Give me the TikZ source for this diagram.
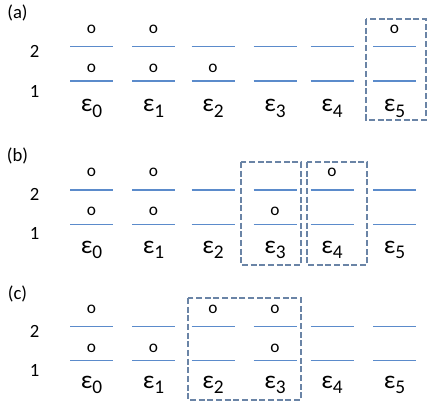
\documentclass[tikz,border=0pt]{standalone}
\usepackage{fontspec}
\setmainfont{Carlito}
\definecolor{lvl}{HTML}{5B8BCB}
\definecolor{grpc}{HTML}{6A84A6}
\begin{document}
\begin{tikzpicture}[x=0.75pt,y=-0.75pt,
  level/.style={draw=lvl,line width=1pt},
  occ/.style={font=\fontsize{13}{15}\selectfont,inner sep=0pt},
  lab/.style={font=\fontsize{14}{16}\selectfont,inner sep=0pt},
  eps/.style={font=\fontsize{19}{22}\selectfont,inner sep=0pt,anchor=base},
  grp/.style={draw=grpc,line width=1.5pt,dash pattern=on 4.5pt off 2pt}]
\useasboundingbox (0,0) rectangle (436,409);
\def\cols{0/91.5,1/153.5,2/213,3/275,4/332,5/394.5}
% panel: name / tag / tag y / o up / level2 / o low / level1 / lab2 / lab1 / eps base
\foreach \p/\t/\ty/\ou/\lt/\ol/\lo/\lb/\la/\eb in {
  a/(a)/13/29.5/46.5/68/81/51.5/91/112,
  b/(b)/156/172.5/190/211/224.3/194.5/233.5/253.3,
  c/(c)/293.5/309/326.7/348/360.7/331.5/370.5/388.3}{
  \node[lab] (\p-tag) at (17.5,\ty) {\t};
  \node[lab] (\p-l2) at (34.5,\lb) {2};
  \node[lab] (\p-l1) at (34.5,\la) {1};
  \foreach \i/\x in \cols {
    \coordinate (\p-u\i-w) at (\x-21.5,\lt);
    \coordinate (\p-u\i-e) at (\x+21.5,\lt);
    \coordinate (\p-d\i-w) at (\x-21.5,\lo);
    \coordinate (\p-d\i-e) at (\x+21.5,\lo);
    \draw[level] (\p-u\i-w) -- (\p-u\i-e);
    \draw[level] (\p-d\i-w) -- (\p-d\i-e);
    \coordinate (\p-ou\i) at (\x,\ou);
    \coordinate (\p-ol\i) at (\x,\ol);
    \node[eps] (\p-e\i) at (\x,\eb) {ε\raisebox{-3.8pt}{\fontsize{14.5}{16}\selectfont\i}};
  }
}
% occupations
\foreach \c in {a-ou0,a-ol0,a-ou1,a-ol1,a-ol2,a-ou5,
                b-ou0,b-ol0,b-ou1,b-ol1,b-ol3,b-ou4,
                c-ou0,c-ol0,c-ol1,c-ou2,c-ou3,c-ol3}
  \node[occ] (o-\c) at (\c) {o};
% groups
\draw[grp] (366,19) rectangle (426,120);
\draw[grp] (241,162) rectangle (301,265);
\draw[grp] (307,162) rectangle (367,265);
\draw[grp] (188,298) rectangle (301,400);
\end{tikzpicture}
\end{document}
